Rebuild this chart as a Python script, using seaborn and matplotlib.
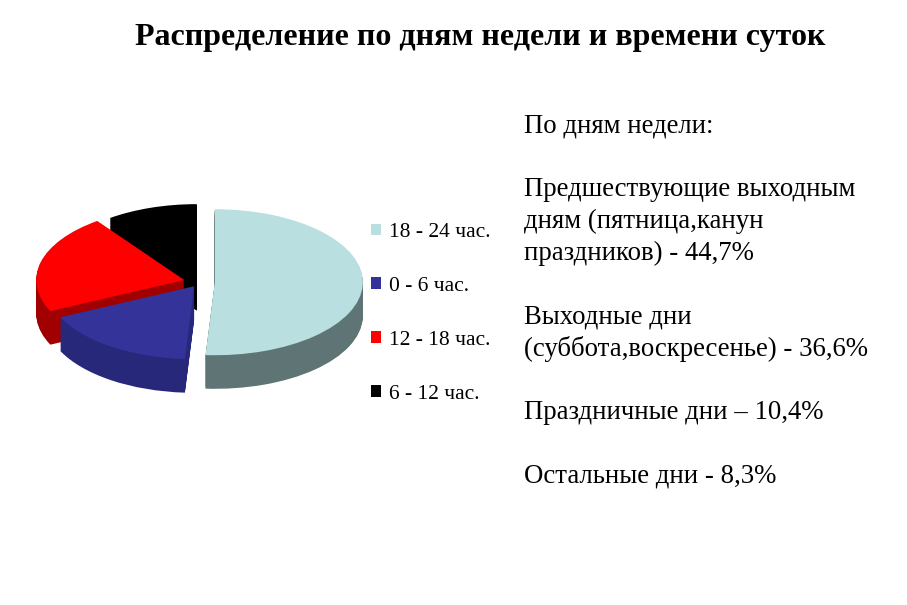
import matplotlib
matplotlib.use("Agg")
import matplotlib.pyplot as plt
import seaborn as sns
from matplotlib.patches import Patch

# ---- data ----
categories = ["18 - 24 час.", "0 - 6 час.", "12 - 18 час.", "6 - 12 час."]
shares = [51, 17, 22, 10]
top_colors = ["#BADFE0", "#333399", "#FF0000", "#000000"]
side_colors = ["#5F7474", "#28287A", "#A00000", "#000000"]
explode = [0.10, 0.07, 0.11, 0.07]

title = "Распределение по дням недели и времени суток"
text_lines = [
    "По дням недели:",
    "",
    "Предшествующие выходным",
    "дням (пятница,канун",
    "праздников) - 44,7%",
    "",
    "Выходные дни",
    "(суббота,воскресенье) - 36,6%",
    "",
    "Праздничные дни – 10,4%",
    "",
    "Остальные дни - 8,3%",
]

sns.set_theme(style="white")
plt.rcParams["font.family"] = ["Liberation Serif", "DejaVu Serif"]
plt.rcParams["text.color"] = "black"

W, H = 907, 605
fig = plt.figure(figsize=(W / 100, H / 100), dpi=100)
fig.patch.set_facecolor("white")

# pie axes (pixel layout)
cx, cy = 200, 282
rx, ry = 148, 73
xl = (-1.3, 1.3)
yl = (-2.0, 1.3)
ax_left = cx + xl[0] * rx
ax_w = (xl[1] - xl[0]) * rx
ax_top = cy - yl[1] * ry
ax_h = (yl[1] - yl[0]) * ry
ax = fig.add_axes([ax_left / W, (H - ax_top - ax_h) / H, ax_w / W, ax_h / H])

depth = 0.46
n_layers = 40
palette_side = sns.color_palette(side_colors)
palette_top = sns.color_palette(top_colors)
for k in range(n_layers):
    off = -depth * (1 - k / n_layers)
    ax.pie(shares, colors=palette_side, startangle=90, counterclock=False,
           explode=explode, center=(0, off), radius=1.0,
           wedgeprops=dict(linewidth=0))
wedges, _ = ax.pie(shares, colors=palette_top, startangle=90, counterclock=False,
                   explode=explode, center=(0, 0), radius=1.0,
                   wedgeprops=dict(linewidth=0))
ax.set_aspect("auto")
ax.set_xlim(*xl)
ax.set_ylim(*yl)
ax.axis("off")

# legend
handles = [Patch(facecolor=c, edgecolor="none") for c in top_colors]
leg = fig.legend(handles, categories, loc="upper left",
                 bbox_to_anchor=(371 / W, 1 - 223 / H), borderpad=0,
                 borderaxespad=0,
                 frameon=False, fontsize=15.5, handlelength=0.45, handleheight=0.45,
                 handletextpad=0.4, labelspacing=1.62)

fig.text(480 / W, 1 - 38 / H, title, ha="center", va="center",
         fontsize=23, fontweight="bold")

y0 = 126
for i, line in enumerate(text_lines):
    if line:
        fig.text(524 / W, 1 - (y0 + i * 31.8) / H, line, ha="left", va="center",
                 fontsize=19.3)

fig.savefig("out.png", dpi=100, facecolor="white")
